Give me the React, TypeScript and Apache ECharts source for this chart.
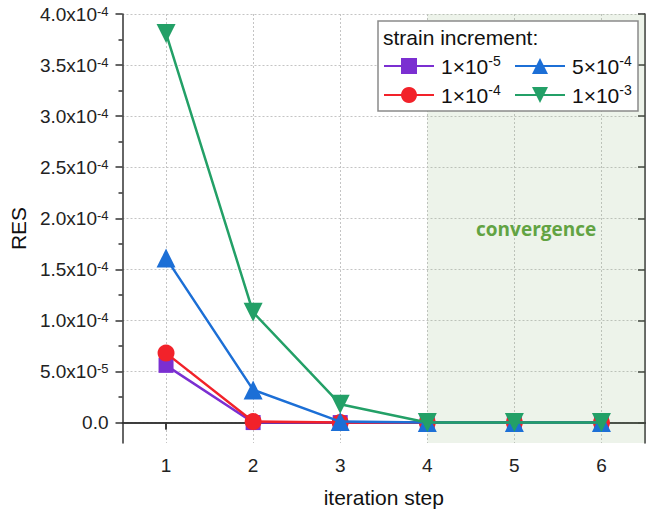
import React, { useEffect, useRef } from "react";
import * as echarts from "echarts";

const steps = [1, 2, 3, 4, 5, 6];
const seriesNames = ["1e-5", "1e-4", "5e-4", "1e-3"];
const legendLabels = ["1×10{s|-5}", "1×10{s|-4}", "5×10{s|-4}", "1×10{s|-3}"];
const res_1e5 = [5.6e-5, 0, 0, 0, 0, 0];
const res_1e4 = [6.8e-5, 1e-6, 0, 0, 0, 0];
const res_5e4 = [1.61e-4, 3.2e-5, 1e-6, 0, 0, 0];
const res_1e3 = [3.81e-4, 1.08e-4, 1.8e-5, 0, 0, 0];
const seriesColors = ["#7b2fd1", "#f2222a", "#1c6fd6", "#23a067"];
const seriesSymbols = ["rect", "circle", "triangle", "triangle"];
const seriesRotate = [0, 0, 0, 180];
const seriesSizes = [15, 17, 19, 19];

const yTicks = [0, 5e-5, 1e-4, 1.5e-4, 2e-4, 2.5e-4, 3e-4, 3.5e-4, 4e-4];
const yTickLabels = [
  "0.0",
  "5.0x10{s|-5}",
  "1.0x10{s|-4}",
  "1.5x10{s|-4}",
  "2.0x10{s|-4}",
  "2.5x10{s|-4}",
  "3.0x10{s|-4}",
  "3.5x10{s|-4}",
  "4.0x10{s|-4}",
];
const yMinorTicks = [2.5e-5, 7.5e-5, 1.25e-4, 1.75e-4, 2.25e-4, 2.75e-4, 3.25e-4, 3.75e-4];
const convergenceStart = 4;

export default function App() {
  const ref = useRef<HTMLDivElement>(null);
  useEffect(() => {
    const chart = echarts.init(ref.current!, null, { renderer: "svg" });
    const font = "'Liberation Sans', Arial, sans-serif";
    const allData = [res_1e5, res_1e4, res_5e4, res_1e3];
    const axisLine = { show: true, lineStyle: { color: "#333", width: 1.5 } };
    const xMin = 0.5;
    const xMax = 6.5;
    const yMin = -2e-5;
    const yMax = 4e-4;
    const legendText = {
      fontSize: 21,
      fontFamily: font,
      color: "#111",
      lineHeight: 24,
      padding: [0, 0, 0, 2],
      rich: {
        s: { fontSize: 14, fontFamily: font, color: "#111", verticalAlign: "top", lineHeight: 14 },
      },
    };
    const series: any[] = seriesNames.map((name, i) => ({
      name,
      type: "line",
      xAxisIndex: 0,
      yAxisIndex: 0,
      data: steps.map((s, j) => [s, allData[i][j]]),
      symbol: seriesSymbols[i],
      symbolRotate: seriesRotate[i],
      symbolSize: seriesSizes[i],
      lineStyle: { color: seriesColors[i], width: 2.5 },
      itemStyle: { color: seriesColors[i] },
      z: 3 + i,
    }));
    series[0].markArea = {
      silent: true,
      itemStyle: { color: "rgba(150,185,130,0.17)" },
      label: {
        show: true,
        position: "inside",
        color: "#62a343",
        fontSize: 19,
        fontWeight: "bold",
        fontFamily: "'Open Sans', sans-serif",
      },
      data: [[{ xAxis: convergenceStart, name: "convergence" }, { xAxis: xMax }]],
    };
    chart.setOption({
      animation: false,
      backgroundColor: "#fff",
      grid: { left: 117, right: 1, top: 14, bottom: 70, containLabel: false },
      xAxis: [
        {
          type: "value",
          position: "bottom",
          min: xMin,
          max: xMax,
          name: "iteration step",
          nameLocation: "middle",
          nameGap: 44,
          nameTextStyle: { fontSize: 21, fontFamily: font, color: "#111" },
          axisLine,
          axisTick: { show: true, inside: false, length: 7, customValues: steps, lineStyle: { color: "#333", width: 1.5 } },
          axisLabel: { show: true, customValues: steps, margin: 13, fontSize: 19, fontFamily: font, color: "#222" },
          splitLine: { show: true, lineStyle: { type: [2, 2], color: "#c4c4c4", width: 1 } },
        },
        {
          type: "value",
          position: "top",
          min: xMin,
          max: xMax,
          axisLine,
          axisTick: { show: true, inside: true, length: 7, customValues: steps, lineStyle: { color: "#333", width: 1.5 } },
          axisLabel: { show: false },
          splitLine: { show: false },
        },
      ],
      yAxis: [
        {
          type: "value",
          position: "left",
          min: yMin,
          max: yMax,
          name: "RES",
          nameLocation: "middle",
          nameGap: 76,
          nameTextStyle: { fontSize: 21, fontFamily: font, color: "#111" },
          axisLine,
          axisTick: { show: true, inside: false, length: 7, customValues: yTicks, lineStyle: { color: "#333", width: 1.5 } },
          axisLabel: {
            show: true,
            customValues: yTicks,
            margin: 14,
            fontSize: 19,
            fontFamily: font,
            color: "#222",
            formatter: (v: number) => {
              const i = yTicks.findIndex((t) => Math.abs(t - v) < 1e-9);
              return i >= 0 ? yTickLabels[i] : "";
            },
            rich: { s: { fontSize: 13, fontFamily: font, color: "#222", verticalAlign: "top", lineHeight: 13 } },
          },
          splitLine: { show: true, lineStyle: { type: [2, 2], color: "#c4c4c4", width: 1 } },
        },
        {
          type: "value",
          position: "left",
          min: yMin,
          max: yMax,
          axisLine: { show: false },
          axisTick: { show: true, inside: false, length: 4, customValues: yMinorTicks, lineStyle: { color: "#333", width: 1.5 } },
          axisLabel: { show: false },
          splitLine: { show: false },
        },
        {
          type: "value",
          position: "right",
          min: yMin,
          max: yMax,
          axisLine,
          axisTick: { show: true, inside: true, length: 7, customValues: yTicks, lineStyle: { color: "#333", width: 1.5 } },
          axisLabel: { show: false },
          splitLine: { show: false },
        },
      ],
      legend: [
        {
          orient: "vertical",
          left: 383,
          top: 54,
          padding: 0,
          itemWidth: 50,
          itemHeight: 20,
          itemGap: 5,
          z: 20,
          data: [seriesNames[0], seriesNames[1]],
          formatter: (n: string) => legendLabels[seriesNames.indexOf(n)],
          textStyle: legendText,
        },
        {
          orient: "vertical",
          left: 514,
          top: 54,
          padding: 0,
          itemWidth: 50,
          itemHeight: 20,
          itemGap: 5,
          z: 20,
          data: [seriesNames[2], seriesNames[3]],
          formatter: (n: string) => legendLabels[seriesNames.indexOf(n)],
          textStyle: legendText,
        },
      ],
      graphic: [
        {
          type: "rect",
          z: 15,
          shape: { x: 378, y: 21, width: 260, height: 90 },
          style: { fill: "#fff", stroke: "#8a8a8a", lineWidth: 1.5 },
        },
        {
          type: "text",
          z: 16,
          x: 383,
          y: 37,
          style: { text: "strain increment:", fontSize: 21, fontFamily: font, fill: "#111", textVerticalAlign: "middle" },
        },
      ],
      series,
    });
    return () => chart.dispose();
  }, []);
  return <div ref={ref} style={{ position: "absolute", left: 0, top: 0, width: 646, height: 513 }} />;
}
